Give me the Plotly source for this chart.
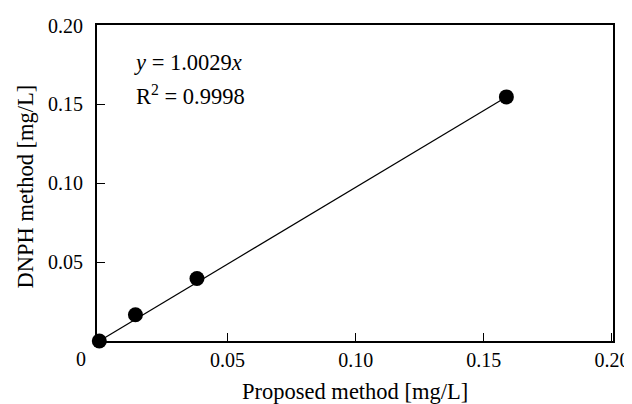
import plotly.graph_objects as go

proposed = [0.0, 0.0141, 0.0381, 0.1588]
dnph = [0.0, 0.0166, 0.0396, 0.1548]
x_ticks = [0.05, 0.10, 0.15, 0.20]
x_tick_labels = ["0.05", "0.10", "0.15", "0.20"]
y_ticks = [0.05, 0.10, 0.15, 0.20]
y_tick_labels = ["0.05", "0.10", "0.15", "0.20"]
x_title = "Proposed method [mg/L]"
y_title = "DNPH method [mg/L]"
eq_text = "<i>y</i> = 1.0029<i>x</i>"
r2_text = "R<sup>2</sup> = 0.9998"

FONT = "Liberation Serif"
TICK_SIZE = 20
TITLE_SIZE = 22.5
TEXT_SIZE = 22.5

fig = go.Figure()
fig.add_trace(go.Scatter(
    x=[proposed[0], proposed[-1]], y=[dnph[0], dnph[-1]],
    mode="lines", line=dict(color="black", width=1.2),
    hoverinfo="skip", showlegend=False))
fig.add_trace(go.Scatter(
    x=proposed, y=dnph, mode="markers",
    marker=dict(color="black", size=15),
    showlegend=False, cliponaxis=False))

# the page body adds an 8px margin, so the figure is 8px smaller
fig.update_layout(
    width=624, height=396,
    margin=dict(l=89, r=19, t=17, b=63),
    paper_bgcolor="white", plot_bgcolor="white",
    font=dict(family=FONT, size=TICK_SIZE, color="black"),
    xaxis=dict(
        range=[-0.0009, 0.2004], tickvals=x_ticks, ticktext=x_tick_labels,
        ticks="inside", ticklen=8, tickwidth=1, tickcolor="black",
        showline=True, linewidth=2, linecolor="black", mirror=True,
        showgrid=False, zeroline=False, automargin=False,
        tickfont=dict(family=FONT, size=TICK_SIZE),
    ),
    yaxis=dict(
        range=[0.0, 0.2004], tickvals=y_ticks, ticktext=y_tick_labels,
        ticks="inside", ticklen=8, tickwidth=1, tickcolor="black",
        showline=True, linewidth=2, linecolor="black", mirror=True,
        showgrid=False, zeroline=False, automargin=False,
        tickfont=dict(family=FONT, size=TICK_SIZE),
        ticklabelstandoff=8,
    ),
    annotations=[
        dict(text="0", xref="x", yref="paper", x=0, y=0, xanchor="center",
             yanchor="top", xshift=-18, yshift=-5, showarrow=False,
             font=dict(family=FONT, size=TICK_SIZE)),
        dict(text=x_title, xref="paper", yref="paper", x=0.5, y=-0.161,
             xanchor="center", yanchor="middle", showarrow=False,
             font=dict(family=FONT, size=TITLE_SIZE)),
        dict(text=y_title, xref="paper", yref="paper", x=-0.139, y=0.49,
             xanchor="center", yanchor="middle", textangle=-90,
             showarrow=False, font=dict(family=FONT, size=TITLE_SIZE)),
        dict(text=eq_text, xref="paper", yref="paper", x=0.068, y=0.88,
             xanchor="left", yanchor="middle", showarrow=False,
             font=dict(family=FONT, size=TEXT_SIZE)),
        dict(text=r2_text, xref="paper", yref="paper", x=0.072, y=0.778,
             xanchor="left", yanchor="middle", showarrow=False,
             font=dict(family=FONT, size=TEXT_SIZE)),
    ],
)

fig.write_html("out.html")
